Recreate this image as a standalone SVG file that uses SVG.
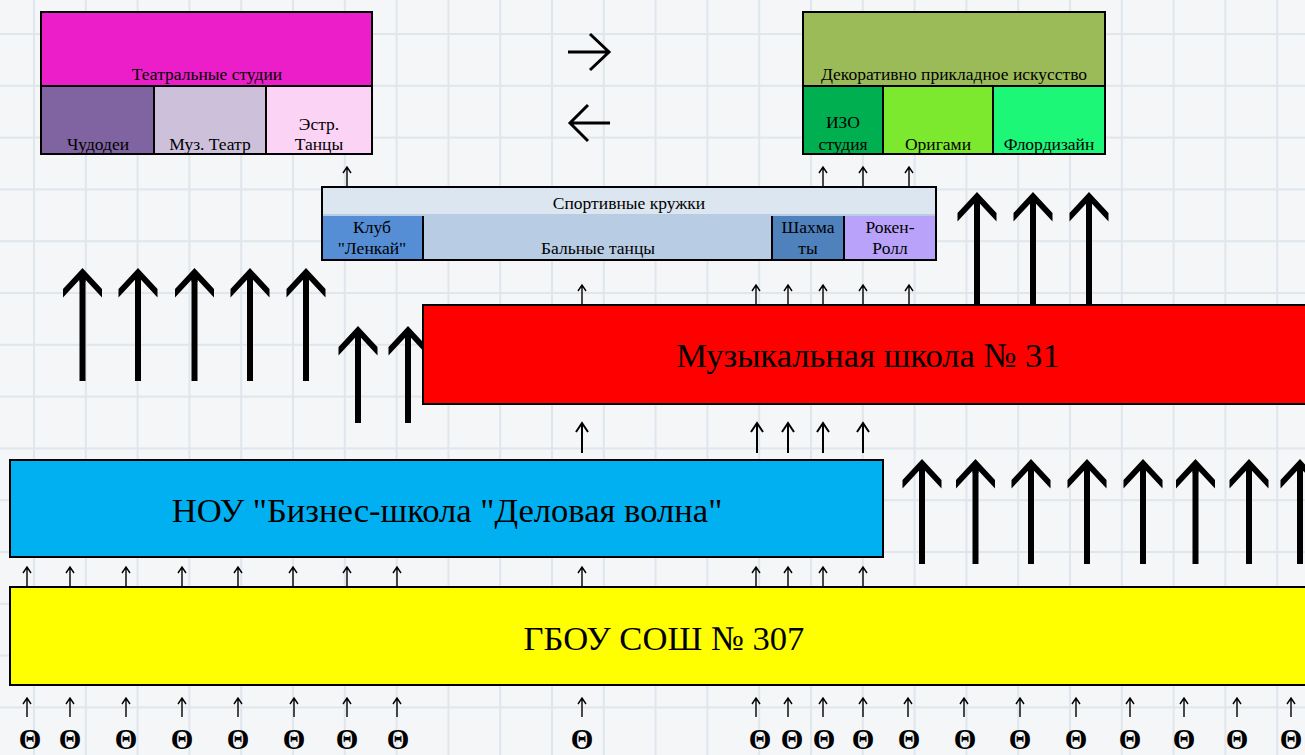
<svg xmlns="http://www.w3.org/2000/svg" xmlns:xlink="http://www.w3.org/1999/xlink" width="1305" height="755" viewBox="0 0 1305 755">
<style>
.t{font-family:"Liberation Serif","Times New Roman",serif;fill:#000;text-anchor:middle}
.s{font-size:17.5px}
.b{font-size:34.6px}
.bx{stroke:#000;stroke-width:2}
.th{font-family:"Liberation Serif","Times New Roman",serif;font-weight:bold;font-size:29px;text-anchor:middle}
.sh{stroke:#000;stroke-width:6}
.gl{stroke:#dfe7ed;stroke-width:4}
</style>
<defs>
<path id="sa" d="M0,0 V-19 M-4,-13 L0,-19 L4,-13" stroke="#000" stroke-width="1.4" fill="none"/>
<path id="ma" d="M0,0 V-30 M-6,-21 L0,-30 L6,-21" stroke="#000" stroke-width="2" fill="none"/>
<path id="bh" d="M0,-1 L19.5,20 L19.5,28.5 L3,10.7 L3,13 L-3,13 L-3,10.7 L-19.5,28.5 L-19.5,20 Z" fill="#000"/>
<pattern id="grid" x="33" y="33" width="51.8" height="51.8" patternUnits="userSpaceOnUse">
<rect width="51.8" height="51.8" fill="#f4f6f8"/>
<line x1="0" y1="0" x2="51.8" y2="0" class="gl"/>
<line x1="0" y1="0" x2="0" y2="51.8" class="gl"/>
</pattern>
</defs>
<rect width="1305" height="755" fill="url(#grid)"/>

<g id="connectors">
<path d="M568,52 H609 M590,34 L609,52 L590,70" stroke="#000" stroke-width="3" fill="none"/>
<path d="M610,123 H570 M588,105 L570,123 L588,141" stroke="#000" stroke-width="3" fill="none"/>
<line x1="82.5" y1="278" x2="82.5" y2="381" class="sh"/><use href="#bh" x="82.5" y="269"/>
<line x1="138" y1="278" x2="138" y2="381" class="sh"/><use href="#bh" x="138" y="269"/>
<line x1="194.5" y1="278" x2="194.5" y2="381" class="sh"/><use href="#bh" x="194.5" y="269"/>
<line x1="250" y1="278" x2="250" y2="381" class="sh"/><use href="#bh" x="250" y="269"/>
<line x1="306" y1="278" x2="306" y2="381" class="sh"/><use href="#bh" x="306" y="269"/>
<line x1="358" y1="336" x2="358" y2="423" class="sh"/><use href="#bh" x="358" y="327"/>
<line x1="408" y1="336" x2="408" y2="423" class="sh"/><use href="#bh" x="408" y="327"/>
<line x1="977" y1="202" x2="977" y2="304" class="sh"/><use href="#bh" x="977" y="193"/>
<line x1="1033" y1="202" x2="1033" y2="304" class="sh"/><use href="#bh" x="1033" y="193"/>
<line x1="1089" y1="202" x2="1089" y2="304" class="sh"/><use href="#bh" x="1089" y="193"/>
<line x1="922" y1="469" x2="922" y2="564" class="sh"/><use href="#bh" x="922" y="460"/>
<line x1="975.5" y1="469" x2="975.5" y2="564" class="sh"/><use href="#bh" x="975.5" y="460"/>
<line x1="1031" y1="469" x2="1031" y2="564" class="sh"/><use href="#bh" x="1031" y="460"/>
<line x1="1087" y1="469" x2="1087" y2="564" class="sh"/><use href="#bh" x="1087" y="460"/>
<line x1="1143" y1="469" x2="1143" y2="564" class="sh"/><use href="#bh" x="1143" y="460"/>
<line x1="1195.5" y1="469" x2="1195.5" y2="564" class="sh"/><use href="#bh" x="1195.5" y="460"/>
<line x1="1249" y1="469" x2="1249" y2="564" class="sh"/><use href="#bh" x="1249" y="460"/>
<line x1="1300" y1="469" x2="1300" y2="564" class="sh"/><use href="#bh" x="1300" y="460"/>
<use href="#sa" x="347" y="186"/>
<use href="#sa" x="823" y="186"/>
<use href="#sa" x="863" y="186"/>
<use href="#sa" x="909" y="186"/>
<use href="#sa" x="582" y="304"/>
<use href="#sa" x="756" y="304"/>
<use href="#sa" x="788" y="304"/>
<use href="#sa" x="823" y="304"/>
<use href="#sa" x="863" y="304"/>
<use href="#sa" x="909" y="304"/>
<use href="#ma" x="582" y="453"/>
<use href="#ma" x="757" y="453"/>
<use href="#ma" x="788" y="453"/>
<use href="#ma" x="823" y="453"/>
<use href="#ma" x="863" y="453"/>
<use href="#sa" x="27" y="586"/>
<use href="#sa" x="70" y="586"/>
<use href="#sa" x="126" y="586"/>
<use href="#sa" x="182" y="586"/>
<use href="#sa" x="238" y="586"/>
<use href="#sa" x="293" y="586"/>
<use href="#sa" x="347" y="586"/>
<use href="#sa" x="397" y="586"/>
<use href="#sa" x="582" y="586"/>
<use href="#sa" x="756" y="586"/>
<use href="#sa" x="788" y="586"/>
<use href="#sa" x="823" y="586"/>
<use href="#sa" x="863" y="586"/>
<use href="#sa" x="27" y="717"/>
<use href="#sa" x="70" y="717"/>
<use href="#sa" x="126" y="717"/>
<use href="#sa" x="182" y="717"/>
<use href="#sa" x="238" y="717"/>
<use href="#sa" x="294" y="717"/>
<use href="#sa" x="347" y="717"/>
<use href="#sa" x="397" y="717"/>
<use href="#sa" x="582" y="717"/>
<use href="#sa" x="756" y="717"/>
<use href="#sa" x="788" y="717"/>
<use href="#sa" x="823" y="717"/>
<use href="#sa" x="863" y="717"/>
<use href="#sa" x="908" y="717"/>
<use href="#sa" x="964" y="717"/>
<use href="#sa" x="1020" y="717"/>
<use href="#sa" x="1076" y="717"/>
<use href="#sa" x="1130" y="717"/>
<use href="#sa" x="1184" y="717"/>
<use href="#sa" x="1237" y="717"/>
<use href="#sa" x="1291" y="717"/>
</g>

<g id="inputs">
<text class="th" x="30" y="749">Θ</text>
<text class="th" x="70" y="749">Θ</text>
<text class="th" x="126" y="749">Θ</text>
<text class="th" x="182" y="749">Θ</text>
<text class="th" x="238" y="749">Θ</text>
<text class="th" x="294" y="749">Θ</text>
<text class="th" x="347" y="749">Θ</text>
<text class="th" x="398" y="749">Θ</text>
<text class="th" x="582" y="749">Θ</text>
<text class="th" x="760" y="749">Θ</text>
<text class="th" x="792" y="749">Θ</text>
<text class="th" x="824" y="749">Θ</text>
<text class="th" x="863" y="749">Θ</text>
<text class="th" x="909" y="749">Θ</text>
<text class="th" x="965" y="749">Θ</text>
<text class="th" x="1020" y="749">Θ</text>
<text class="th" x="1076" y="749">Θ</text>
<text class="th" x="1130" y="749">Θ</text>
<text class="th" x="1184" y="749">Θ</text>
<text class="th" x="1237" y="749">Θ</text>
<text class="th" x="1291" y="749">Θ</text>
</g>

<g id="theatre">
<rect x="41" y="12" width="331" height="74" fill="#ec1ec9" class="bx"/>
<rect x="41" y="86" width="113" height="68" fill="#8064a2" class="bx"/>
<rect x="154" y="86" width="112" height="68" fill="#ccc0da" class="bx"/>
<rect x="266" y="86" width="106" height="68" fill="#fad3f5" class="bx"/>
<text class="t s" x="207" y="80">Театральные студии</text>
<text class="t s" x="98" y="150">Чудодеи</text>
<text class="t s" x="210" y="150">Муз. Театр</text>
<text class="t s" x="319" y="130">Эстр.</text>
<text class="t s" x="319" y="150">Танцы</text>
</g>

<g id="decor">
<rect x="803" y="12" width="302" height="74" fill="#9bbb59" class="bx"/>
<rect x="803" y="86" width="80" height="68" fill="#00b050" class="bx"/>
<rect x="883" y="86" width="110" height="68" fill="#7ce82e" class="bx"/>
<rect x="993" y="86" width="112" height="68" fill="#1cf777" class="bx"/>
<text class="t s" x="954" y="80">Декоративно прикладное искусство</text>
<text class="t s" x="843" y="128">ИЗО</text>
<text class="t s" x="843" y="150">студия</text>
<text class="t s" x="938" y="150">Оригами</text>
<text class="t s" x="1049" y="150">Флордизайн</text>
</g>

<g id="sport">
<rect x="322" y="187" width="614" height="28" fill="#dce6f1" class="bx"/>
<rect x="322" y="215" width="101" height="45" fill="#558ed5" class="bx"/>
<rect x="423" y="215" width="349" height="45" fill="#b8cce4" class="bx"/>
<rect x="772" y="215" width="72" height="45" fill="#4f81bd" class="bx"/>
<rect x="844" y="215" width="92" height="45" fill="#b9a3fa" class="bx"/>
<line x1="323" y1="215" x2="935" y2="215" stroke="#b8cce4" stroke-width="2"/>
<text class="t s" x="629" y="209">Спортивные кружки</text>
<text class="t s" x="372" y="233">Клуб</text>
<text class="t s" x="372" y="254">"Ленкай"</text>
<text class="t s" x="598" y="254">Бальные танцы</text>
<text class="t s" x="808" y="233">Шахма</text>
<text class="t s" x="808" y="254">ты</text>
<text class="t s" x="890" y="233">Рокен-</text>
<text class="t s" x="890" y="254">Ролл</text>
</g>

<g id="music">
<rect x="423" y="305" width="900" height="99" fill="#ff0000" class="bx"/>
<text class="t b" x="868" y="367">Музыкальная школа № 31</text>
</g>

<g id="business">
<rect x="10" y="460" width="873" height="97" fill="#00b0f0" class="bx"/>
<text class="t b" x="447" y="522">НОУ "Бизнес-школа "Деловая волна"</text>
</g>

<g id="school">
<rect x="10" y="587" width="1310" height="98" fill="#ffff00" class="bx"/>
<text class="t b" x="664" y="650">ГБОУ СОШ № 307</text>
</g>
</svg>
